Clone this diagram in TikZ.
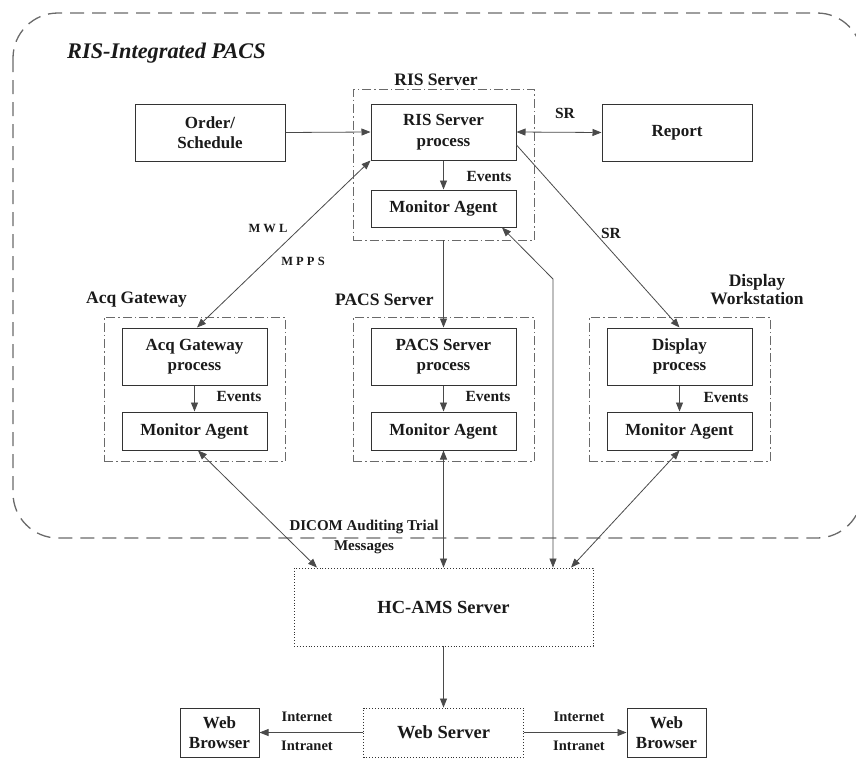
\documentclass[tikz,border=0pt]{standalone}
\usepackage{fontspec}
\setmainfont{Liberation Serif}
\usetikzlibrary{arrows.meta}
\definecolor{ink}{HTML}{1A1A1A}
\definecolor{boxc}{HTML}{333333}
\definecolor{linec}{HTML}{4A4A4A}
\definecolor{framec}{HTML}{6A6A6A}
\begin{document}
\begin{tikzpicture}[x=1pt,y=-1pt,
  font=\bfseries, text=ink,
  tip/.tip={Triangle[length=9pt,width=7pt]},
  box/.style={draw=boxc, line width=1pt, align=center, inner sep=0pt,
    font=\fontsize{17}{20.5}\selectfont\bfseries},
  proc/.style={box, minimum width=145pt, minimum height=57pt},
  agent/.style={box, minimum width=145pt, minimum height=38pt},
  group/.style={draw=framec, line width=0.9pt,
    dash pattern=on 9pt off 3pt on 1.5pt off 3pt, inner sep=0pt},
  dotbox/.style={draw=boxc, line width=0.9pt, dotted, align=center, inner sep=0pt,
    font=\fontsize{18.5}{22}\selectfont\bfseries},
  outer/.style={draw=framec, line width=1.3pt, dash pattern=on 14pt off 8pt},
  conn/.style={draw=linec, line width=0.8pt, -tip},
  dconn/.style={draw=linec, line width=0.8pt, tip-tip},
  lbl/.style={font=\fontsize{15.5}{17}\selectfont\bfseries, inner sep=0pt, align=center},
  small/.style={font=\fontsize{12.5}{14}\selectfont\bfseries, inner sep=0pt},
  gtitle/.style={font=\fontsize{17.5}{20}\selectfont\bfseries, inner sep=0pt, align=center},
]
\useasboundingbox (0,0) rectangle (856,758);

% outer dashed boundary of the RIS-integrated PACS
\draw[outer, rounded corners=45pt] (13,13) rectangle (862,538);
\node[anchor=west, inner sep=0pt, font=\fontsize{22.3}{26}\selectfont\bfseries\itshape]
  (title) at (67,53) {RIS-Integrated PACS};

% group frames
\node[group, minimum width=181pt, minimum height=151pt] (risg) at (443.5,164.5) {};
\node[group, minimum width=181pt, minimum height=144pt] (acqg) at (194.5,389) {};
\node[group, minimum width=181pt, minimum height=144pt] (pacsg) at (443.5,389) {};
\node[group, minimum width=181pt, minimum height=144pt] (dispg) at (679.5,389) {};

\node[gtitle] (rist) at (436,80) {RIS Server};
\node[gtitle, anchor=west] (acqt) at (86,300) {Acq Gateway};
\node[gtitle, anchor=west] (pacst) at (335,300) {PACS Server};
\node[gtitle, font=\fontsize{17.5}{18}\selectfont\bfseries] (dispt) at (757,290) {Display\\Workstation};

% RIS server
\node[box, minimum width=150pt, minimum height=57pt] (order) at (210,132.5) {Order/\\Schedule};
\node[proc, minimum height=56pt] (risp) at (443.5,132) {RIS Server\\process};
\node[agent, minimum height=37pt] (rism) at (443.5,208.5) {Monitor Agent};
\node[box, minimum width=150pt, minimum height=57pt] (report) at (677,132.5) {Report};

% Acq gateway, PACS server, display workstation
\node[proc] (acqp) at (194.5,356.5) {Acq Gateway\\process};
\node[agent] (acqm) at (194.5,431) {Monitor Agent};
\node[proc] (pacsp) at (443.5,356.5) {PACS Server\\process};
\node[agent] (pacsm) at (443.5,431) {Monitor Agent};
\node[proc] (dispp) at (679.5,356.5) {Display\\process};
\node[agent] (dispm) at (679.5,431) {Monitor Agent};

% audit server and web access
\node[dotbox, minimum width=299pt, minimum height=78pt] (hc) at (443.5,607) {HC-AMS Server};
\node[dotbox, minimum width=160pt, minimum height=49pt] (web) at (443.5,732.5) {Web Server};
\node[box, minimum width=79pt, minimum height=49pt] (wbl) at (219.5,732.5) {Web\\Browser};
\node[box, minimum width=79pt, minimum height=49pt] (wbr) at (666.5,732.5) {Web\\Browser};

% connectors inside the RIS server
\draw[conn] (order.east) -- (risp.west);
\draw[dconn] (risp.east) -- (report.west);
\node[lbl] (srtop) at (565,113) {SR};
\draw[conn] (risp.south) -- (rism.north);
\node[lbl] (evr) at (489,176) {Events};

% process to agent event arrows
\draw[conn] (acqp.south) -- (acqm.north);
\node[lbl] (eva) at (239,396) {Events};
\draw[conn] (pacsp.south) -- (pacsm.north);
\node[lbl] (evp) at (488,396) {Events};
\draw[conn] (dispp.south) -- (dispm.north);
\node[lbl] (evd) at (726,397) {Events};

% worklist and procedure step messages
\draw[dconn] ([xshift=2.5pt]acqp.north) -- (risp.south west);
\node[small] (mwl) at (268,228) {M W L};
\node[small] (mpps) at (303,261) {M P P S};

% structured reports to the display
\draw[conn] ([yshift=-13pt]risp.east) -- (dispp.north);
\node[lbl] (srd) at (611,233) {SR};

% RIS server process to PACS server
\draw[conn] (rism.south |- risg.south) -- (pacsp.north);

% audit trail messages
\coordinate (bend) at (553,279);
\draw[dconn] ([xshift=58.5pt]rism.south) -- (bend) -- (hc.north -| bend);
\draw[dconn] ([xshift=3.5pt]acqm.south) -- ([xshift=-126.5pt]hc.north);
\draw[dconn] (pacsm.south) -- (hc.north);
\draw[dconn] (dispm.south) -- ([xshift=127.5pt]hc.north);
\node[lbl, font=\fontsize{15}{20}\selectfont\bfseries] (dicom) at (364,537) {DICOM Auditing Trial\\Messages};

% web access
\draw[conn] (hc.south) -- (web.north);
\draw[conn] (web.west) -- (wbl.east);
\draw[conn] (web.east) -- (wbr.west);
\node[lbl, font=\fontsize{14.5}{16}\selectfont\bfseries] (inl) at (307,717) {Internet};
\node[lbl, font=\fontsize{14.5}{16}\selectfont\bfseries] (itl) at (307,746) {Intranet};
\node[lbl, font=\fontsize{14.5}{16}\selectfont\bfseries] (inr) at (579,717) {Internet};
\node[lbl, font=\fontsize{14.5}{16}\selectfont\bfseries] (itr) at (579,746) {Intranet};
\end{tikzpicture}
\end{document}
